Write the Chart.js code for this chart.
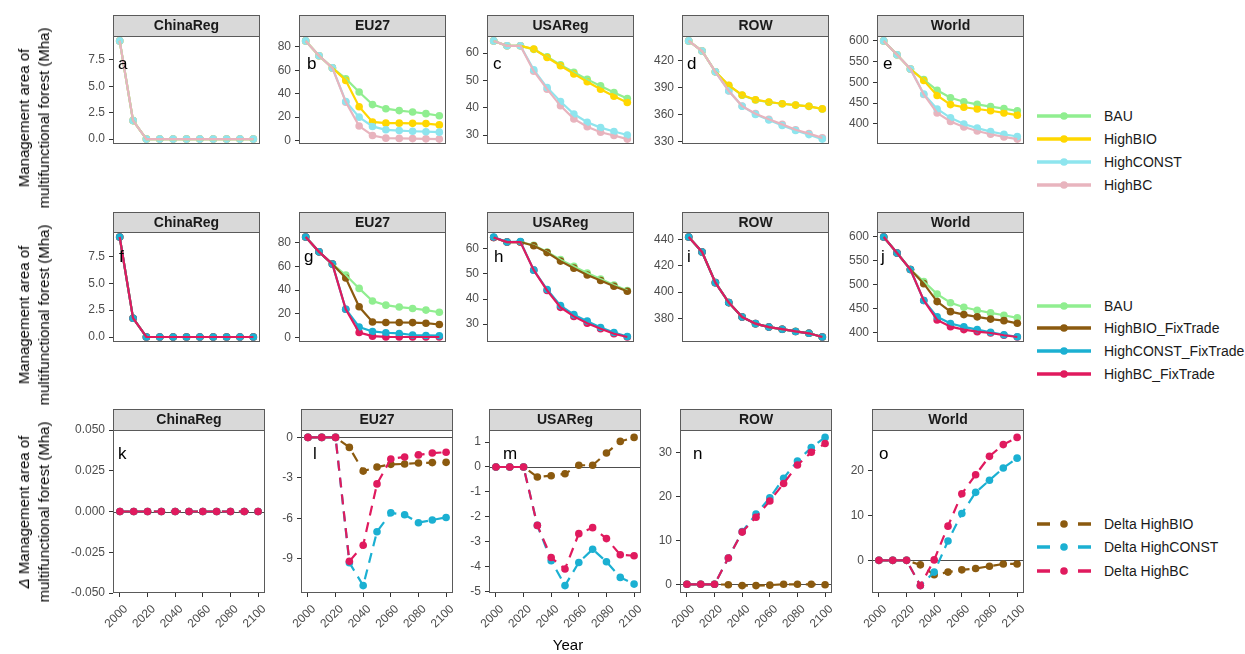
<!DOCTYPE html>
<html>
<head>
<meta charset="utf-8">
<title>Management area of multifunctional forest</title>
<script src="https://cdn.jsdelivr.net/npm/chart.js@4/dist/chart.umd.min.js"></script>
<style>
  html, body { margin: 0; padding: 0; background: #fff; }
  body { width: 1245px; height: 654px; position: relative; overflow: hidden;
         font-family: "Liberation Sans", Arial, sans-serif; }
  canvas { position: absolute; }
  .ytitle { position: absolute; white-space: nowrap; font-size: 15px; line-height: 20px;
            color: #000; text-align: center; transform: translate(-50%, -50%) rotate(-90deg); }
  .xtitle { position: absolute; font-size: 15px; color: #000; transform: translateX(-50%); }
  .item { position: absolute; height: 22px; display: flex; align-items: center;
          white-space: nowrap; font-size: 14px; color: #1a1a1a; }
  .item svg { margin-right: 13px; }
</style>
</head>
<body>
<script>
// ---- data -------------------------------------------------------------
const years = [2000, 2010, 2020, 2030, 2040, 2050, 2060, 2070, 2080, 2090, 2100];
const regions = ['ChinaReg', 'EU27', 'USAReg', 'ROW', 'World'];
const xTicks = [2000, 2020, 2040, 2060, 2080, 2100];

// management area (Mha), scenario runs
const bau = {
  ChinaReg: [9.3, 1.75, 0, 0, 0, 0, 0, 0, 0, 0, 0],
  EU27:     [85, 72.4, 62, 52.8, 41.4, 30.7, 27.2, 25.6, 24.4, 23, 21.2],
  USAReg:   [64.5, 62.7, 62.7, 61.4, 58.7, 55.7, 53.0, 50.4, 48.0, 45.6, 43.4],
  ROW:      [441.6, 430.4, 407.3, 392.2, 381.3, 376.1, 373.6, 371.9, 370.4, 369.0, 366.1],
  World:    [600, 566.7, 532.3, 507, 481, 463, 453.5, 447.3, 441.8, 437, 431.5]
};
const highBio = {
  ChinaReg: [9.3, 1.75, 0, 0, 0, 0, 0, 0, 0, 0, 0],
  EU27:     [85, 72.4, 62, 51.3, 28.9, 15.9, 14.9, 14.9, 14.7, 14.5, 13.4],
  USAReg:   [64.5, 62.7, 62.7, 61.5, 58.4, 55.4, 52.4, 49.5, 46.8, 44.2, 41.9],
  ROW:      [441.6, 430.4, 407.3, 392.3, 381.6, 376.4, 373.8, 371.9, 370.4, 369.0, 366.2],
  World:    [600, 566.7, 532.3, 504.8, 468.8, 446.6, 440.2, 436, 431.7, 426.5, 421.2]
};
const highConst = {
  ChinaReg: [9.3, 1.75, 0, 0, 0, 0, 0, 0, 0, 0, 0],
  EU27:     [85, 72.4, 62, 33.4, 20, 12.1, 9.2, 8.6, 8, 7.6, 7.2],
  USAReg:   [64.5, 62.7, 62.7, 53.9, 47.4, 42.3, 37.7, 34.7, 32.7, 31.3, 30],
  ROW:      [441.6, 430.4, 407.3, 386.3, 369.2, 360.1, 353.9, 347.7, 342.2, 337.7, 332.7],
  World:    [600, 566.7, 532.3, 472, 436, 414.8, 400, 390, 381.5, 375.1, 369.8]
};
const highBc = {
  ChinaReg: [9.3, 1.75, 0, 0, 0, 0, 0, 0, 0, 0, 0],
  EU27:     [85, 72.4, 62, 32.8, 12.4, 4.4, 2.1, 1.9, 1.7, 1.5, 1.3],
  USAReg:   [64.5, 62.7, 62.7, 53.4, 46.8, 40.7, 35.9, 33, 31, 29.8, 28.5],
  ROW:      [441.6, 430.4, 407.3, 386.1, 369.3, 360.9, 354.6, 349, 343.1, 338.8, 334],
  World:    [600, 566.7, 532.3, 471, 426.5, 405.8, 392.6, 383, 375.1, 368.8, 363.5]
};
const highBioFix = {
  ChinaReg: [9.3, 1.75, 0, 0, 0, 0, 0, 0, 0, 0, 0],
  EU27:     [85, 72.4, 62, 50.2, 25.8, 12.9, 12.5, 12.5, 12.4, 11.9, 10.8],
  USAReg:   [64.5, 62.7, 62.7, 61.2, 58.5, 55.1, 52.3, 49.6, 47.4, 45.1, 43.1],
  ROW:      [441.7, 430.4, 407.2, 392.1, 381.2, 376.2, 373.6, 372, 370.3, 368.9, 366.1],
  World:    [600, 566.7, 532.3, 502.8, 465.4, 444.4, 438.3, 433.6, 428.9, 425.7, 420.1]
};
const highConstFix = {
  ChinaReg: [9.3, 1.75, 0, 0, 0, 0, 0, 0, 0, 0, 0],
  EU27:     [85, 72.4, 62, 23.7, 8.7, 4.9, 3.8, 3.2, 1.9, 1.5, 1.3],
  USAReg:   [64.7, 62.7, 62.9, 51.5, 43.8, 37.4, 33.8, 31.2, 28.7, 26.7, 25.1],
  ROW:      [441.7, 430.4, 407.2, 392.1, 381.2, 376.2, 373.6, 372, 370.3, 368.9, 366.1],
  World:    [600, 566.7, 532.3, 467.8, 433.6, 419.6, 412.6, 407, 401.4, 396.3, 392.1]
};
const highBcFix = {
  ChinaReg: [9.3, 1.75, 0, 0, 0, 0, 0, 0, 0, 0, 0],
  EU27:     [85, 72.4, 62, 23.7, 4, 0.9, 0.3, 0.2, 0.2, 0.2, 0.2],
  USAReg:   [64.5, 62.7, 62.7, 51.5, 43.4, 36.7, 33.1, 30.4, 28.2, 26.2, 24.9],
  ROW:      [441.7, 430.4, 407.2, 392.1, 381.2, 376.2, 373.6, 372, 370.3, 368.9, 366.1],
  World:    [600, 566.7, 532.3, 467.8, 427.1, 413.1, 407, 402.8, 400, 395.3, 391.6]
};

// FixTrade minus free-trade runs (Mha)
const deltaBio = {
  ChinaReg: [0, 0, 0, 0, 0, 0, 0, 0, 0, 0, 0],
  EU27:     [0, 0, 0, -0.74, -2.5, -2.2, -2.0, -1.97, -1.9, -1.87, -1.85],
  USAReg:   [0, 0, 0, -0.4, -0.35, -0.27, 0.07, 0.07, 0.56, 1.03, 1.19],
  ROW:      [0, 0, 0, -0.1, -0.3, -0.3, -0.2, 0, 0, 0, -0.1],
  World:    [0, 0, 0, -1, -3.2, -2.6, -2.1, -1.8, -1.3, -0.8, -0.8]
};
const deltaConst = {
  ChinaReg: [0, 0, 0, 0, 0, 0, 0, 0, 0, 0, 0],
  EU27:     [0, 0, 0, -9.3, -11, -7.0, -5.6, -5.74, -6.33, -6.13, -5.94],
  USAReg:   [0, 0, 0, -2.35, -3.77, -4.77, -3.84, -3.31, -3.81, -4.44, -4.71],
  ROW:      [0, 0, 0, 6, 12, 16, 19.7, 24.2, 28.1, 31.2, 33.5],
  World:    [0, 0, 0, -5.6, -2.6, 4.3, 10.4, 15.1, 17.8, 20.5, 22.7]
};
const deltaBc = {
  ChinaReg: [0, 0, 0, 0, 0, 0, 0, 0, 0, 0, 0],
  EU27:     [0, 0, 0, -9.2, -8.0, -3.45, -1.6, -1.45, -1.3, -1.16, -1.1],
  USAReg:   [0, 0, 0, -2.35, -3.64, -4.1, -2.68, -2.44, -2.88, -3.53, -3.57],
  ROW:      [0, 0, 0, 6, 11.9, 15.3, 19, 23, 27.2, 30.1, 32.1],
  World:    [0, 0, 0, -5.6, 0.1, 7.6, 14.8, 19, 23.1, 25.7, 27.3]
};

// y tick labels per facet
const yTicksTop = {
  ChinaReg: [0, 2.5, 5, 7.5], EU27: [0, 20, 40, 60, 80], USAReg: [30, 40, 50, 60],
  ROW: [330, 360, 390, 420], World: [400, 450, 500, 550, 600]
};
const yTicksMid = {
  ChinaReg: [0, 2.5, 5, 7.5], EU27: [0, 20, 40, 60, 80], USAReg: [30, 40, 50, 60],
  ROW: [380, 400, 420, 440], World: [400, 450, 500, 550, 600]
};
const yTicksDelta = {
  ChinaReg: [-0.05, -0.025, 0, 0.025, 0.05], EU27: [-9, -6, -3, 0],
  USAReg: [-5, -4, -3, -2, -1, 0, 1], ROW: [0, 10, 20, 30], World: [0, 10, 20]
};
const decTop = { ChinaReg: 1, EU27: 0, USAReg: 0, ROW: 0, World: 0 };
const decDelta = { ChinaReg: 3, EU27: 0, USAReg: 0, ROW: 0, World: 0 };

// ---- series styling -----------------------------------------------------
const C = {
  bau: '#90EE90', bio: '#FFD700', cst: '#8EE5EE', bc: '#E8B4BE',
  bioF: '#8B5A0F', cstF: '#1BB0D2', bcF: '#E01A5E'
};
// pointOrder / lineOrder: higher value is painted earlier
const seriesTop = [
  { name: 'BAU',       data: bau,       color: C.bau, pointOrder: 103, lineOrder: 3 },
  { name: 'HighBIO',   data: highBio,   color: C.bio, pointOrder: 102, lineOrder: 2 },
  { name: 'HighCONST', data: highConst, color: C.cst, pointOrder: 100, lineOrder: 1 },
  { name: 'HighBC',    data: highBc,    color: C.bc,  pointOrder: 101, lineOrder: 0 }
];
const seriesMid = [
  { name: 'BAU',                data: bau,          color: C.bau,  pointOrder: 103, lineOrder: 3 },
  { name: 'HighBIO_FixTrade',   data: highBioFix,   color: C.bioF, pointOrder: 102, lineOrder: 2 },
  { name: 'HighCONST_FixTrade', data: highConstFix, color: C.cstF, pointOrder: 100, lineOrder: 1 },
  { name: 'HighBC_FixTrade',    data: highBcFix,    color: C.bcF,  pointOrder: 101, lineOrder: 0 }
];
const seriesDelta = [
  { name: 'Delta HighBIO',   data: deltaBio,   color: C.bioF, lineOrder: 2 },
  { name: 'Delta HighCONST', data: deltaConst, color: C.cstF, lineOrder: 1 },
  { name: 'Delta HighBC',    data: deltaBc,    color: C.bcF,  lineOrder: 0 }
];

const rows = [
  { series: seriesTop, ticks: yTicksTop, dec: decTop, stripTop: 15, stripH: 21, plotH: 164,
    lefts: [113, 299, 487, 682, 877], plotW: 147, dashed: false,
    letters: ['a', 'b', 'c', 'd', 'e'], letterDx: [5, 8, 6, 5, 6], letterDy: 33,
    legendY: [116, 139, 162, 185] },
  { series: seriesMid, ticks: yTicksMid, dec: decTop, stripTop: 212, stripH: 20, plotH: 166,
    lefts: [113, 299, 487, 682, 877], plotW: 147, dashed: false,
    letters: ['f', 'g', 'h', 'i', 'j'], letterDx: [6, 5, 7, 5, 4], letterDy: 30,
    legendY: [306, 328, 351, 374] },
  { series: seriesDelta, ticks: yTicksDelta, dec: decDelta, stripTop: 409, stripH: 21, plotH: 163,
    lefts: [113, 301, 489, 680, 872], plotW: 152, dashed: true,
    letters: ['k', 'l', 'm', 'n', 'o'], letterDx: [5, 12, 14, 13, 7], letterDy: 29,
    legendY: [524, 547, 571] }
];

// ---- drawing --------------------------------------------------------------
const FONT = '"Liberation Sans", Arial, sans-serif';
Chart.defaults.font.family = FONT;
const AXIS_W = 60, X_AXIS_H = 56;

const facetFrame = {
  id: 'facetFrame',
  beforeDatasetsDraw(chart, args, o) {
    if (!o.zeroLine) return;
    const { ctx, chartArea: a } = chart;
    const y = Math.round(chart.scales.y.getPixelForValue(0)) + 0.5;
    ctx.save();
    ctx.strokeStyle = '#4d4d4d';
    ctx.lineWidth = 1.2;
    ctx.beginPath(); ctx.moveTo(a.left, y); ctx.lineTo(a.right, y); ctx.stroke();
    ctx.restore();
  },
  afterDraw(chart, args, o) {
    const { ctx, chartArea: a } = chart;
    const w = a.right - a.left, sh = o.stripH;
    ctx.save();
    ctx.fillStyle = '#D9D9D9';
    ctx.fillRect(a.left, a.top - sh, w, sh);
    ctx.strokeStyle = '#5a5a5a';
    ctx.lineWidth = 1;
    ctx.strokeRect(a.left + 0.5, a.top - sh + 0.5, w - 1, sh);
    ctx.strokeRect(a.left + 0.5, a.top + 0.5, w - 1, a.bottom - a.top - 1);
    ctx.fillStyle = '#1a1a1a';
    ctx.font = 'bold 14px ' + FONT;
    ctx.textAlign = 'center';
    ctx.textBaseline = 'middle';
    ctx.fillText(o.title, a.left + w / 2, a.top - sh / 2 + 1);
    ctx.fillStyle = '#000';
    ctx.font = '17px ' + FONT;
    ctx.textAlign = 'left';
    ctx.textBaseline = 'alphabetic';
    ctx.fillText(o.letter, a.left + o.letterDx, a.top + o.letterDy);
    ctx.restore();
  }
};

function yRange(arrays, withZero) {
  let lo = Infinity, hi = -Infinity;
  arrays.forEach(arr => arr.forEach(v => { lo = Math.min(lo, v); hi = Math.max(hi, v); }));
  if (withZero) { lo = Math.min(lo, 0); hi = Math.max(hi, 0); }
  const span = hi - lo;
  if (span === 0) return [lo - 0.05, hi + 0.05];
  return [lo - 0.05 * span, hi + 0.05 * span];
}

function pts(arr) { return years.map((yr, i) => ({ x: yr, y: arr[i] })); }

function buildDatasets(row, region) {
  const out = [];
  row.series.forEach(s => {
    const d = pts(s.data[region]);
    if (row.dashed) {
      out.push({ data: d, borderColor: s.color, backgroundColor: s.color,
        borderWidth: 2.2, borderDash: [10, 7], pointRadius: 3.8, pointBorderWidth: 0,
        pointBackgroundColor: s.color, pointHoverRadius: 3.8, tension: 0, order: s.lineOrder });
    } else {
      out.push({ data: d, showLine: false, borderColor: s.color, backgroundColor: s.color,
        pointRadius: 3.8, pointBorderWidth: 0, pointBackgroundColor: s.color,
        pointHoverRadius: 3.8, order: s.pointOrder });
      out.push({ data: d, borderColor: s.color, backgroundColor: s.color, borderWidth: 2.2,
        pointRadius: 0, pointHoverRadius: 0, tension: 0, order: s.lineOrder });
    }
  });
  return out;
}

rows.forEach(row => {
  regions.forEach((region, ri) => {
    const cv = document.createElement('canvas');
    const width = AXIS_W + row.plotW + 2;
    const height = row.stripH + row.plotH + (row.dashed ? X_AXIS_H : 1);
    cv.width = width; cv.height = height;
    cv.style.left = (row.lefts[ri] - AXIS_W) + 'px';
    cv.style.top = row.stripTop + 'px';
    cv.style.width = width + 'px'; cv.style.height = height + 'px';
    document.body.appendChild(cv);

    const [ymin, ymax] = yRange(row.series.map(s => s.data[region]), row.dashed);
    const yt = row.ticks[region], dec = row.dec[region];

    new Chart(cv, {
      type: 'line',
      data: { datasets: buildDatasets(row, region) },
      plugins: [facetFrame],
      options: {
        responsive: false, animation: false, devicePixelRatio: 1, events: [],
        layout: { autoPadding: false, padding: { top: row.stripH, right: 2, left: 0, bottom: row.dashed ? 0 : 1 } },
        plugins: {
          legend: { display: false }, tooltip: { enabled: false },
          facetFrame: { title: region, letter: row.letters[ri], letterDx: row.letterDx[ri],
                        letterDy: row.letterDy, stripH: row.stripH, zeroLine: row.dashed }
        },
        scales: {
          x: {
            type: 'linear', min: 1995, max: 2105, display: row.dashed,
            afterBuildTicks: s => { s.ticks = xTicks.map(v => ({ value: v })); },
            afterFit: s => { s.height = X_AXIS_H; s.paddingLeft = 0; s.paddingRight = 0; },
            border: { display: false },
            grid: { drawOnChartArea: false, drawTicks: true, tickLength: 4, tickColor: '#333', tickWidth: 1 },
            ticks: { color: '#4d4d4d', font: { size: 12 }, minRotation: 45, maxRotation: 45,
                     autoSkip: false, padding: 5, labelOffset: 6, callback: v => String(v) }
          },
          y: {
            type: 'linear', min: ymin, max: ymax,
            afterBuildTicks: s => { s.ticks = yt.map(v => ({ value: v })); },
            afterFit: s => { s.width = AXIS_W; s.paddingTop = 0; s.paddingBottom = 0; },
            border: { display: false },
            grid: { drawOnChartArea: false, drawTicks: true, tickLength: 4, tickColor: '#333', tickWidth: 1 },
            ticks: { color: '#4d4d4d', font: { size: 12 }, padding: 4, callback: v => Number(v).toFixed(dec) }
          }
        }
      }
    });
  });

  // legend for the row
  row.series.forEach((s, i) => {
    const it = document.createElement('div');
    it.className = 'item';
    it.style.left = '1037px';
    it.style.top = (row.legendY[i] - 11) + 'px';
    const dash = row.dashed ? ' stroke-dasharray="13 28"' : '';
    it.innerHTML =
      '<svg width="54" height="22" viewBox="0 0 54 22">' +
      '<line x1="0" y1="11" x2="54" y2="11" stroke="' + s.color + '" stroke-width="3.5"' + dash + '/>' +
      '<circle cx="27" cy="11" r="3.8" fill="' + s.color + '"/></svg>' +
      '<span>' + s.name + '</span>';
    document.body.appendChild(it);
  });

  // y axis title for the row
  const t = document.createElement('div');
  t.className = 'ytitle';
  t.style.left = '34px';
  t.style.top = (row.stripTop + row.stripH + row.plotH / 2) + 'px';
  t.innerHTML = (row.dashed ? '<i>&Delta;</i> ' : '') + 'Management area of<br>multifunctional forest (Mha)';
  document.body.appendChild(t);
});

const xt = document.createElement('div');
xt.className = 'xtitle';
xt.style.left = '568px';
xt.style.top = '636px';
xt.textContent = 'Year';
document.body.appendChild(xt);
</script>
</body>
</html>
